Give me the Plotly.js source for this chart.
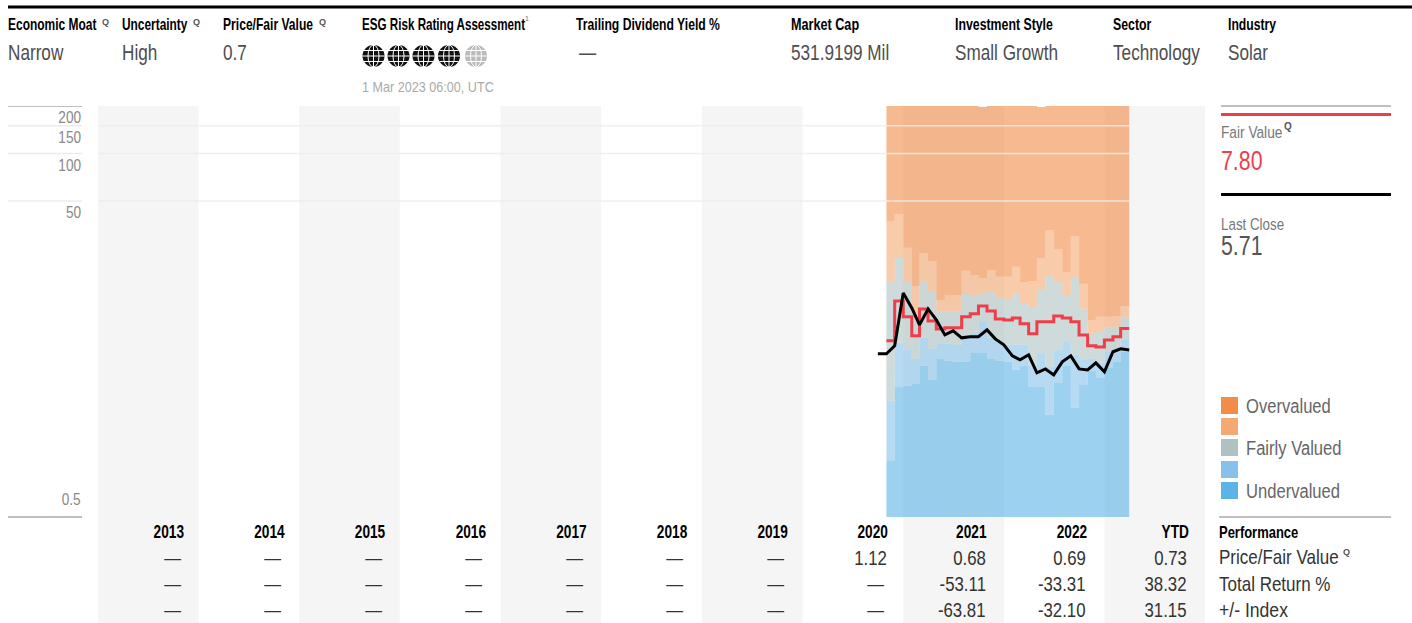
<!DOCTYPE html>
<html>
<head>
<meta charset="utf-8">
<script src="https://cdn.plot.ly/plotly-3.0.1.min.js"></script>
<style>html,body{margin:0;padding:0;background:#fff;overflow:hidden}#chart{width:1412px;height:623px}</style>
</head>
<body>
<div id="chart"></div>
<script>
// ---------- Data ----------
const priceMonths = ['2020-10-01','2020-11-01','2020-12-01','2021-01-01','2021-02-01','2021-03-01','2021-04-01','2021-05-01','2021-06-01','2021-07-01','2021-08-01','2021-09-01','2021-10-01','2021-11-01','2021-12-01','2022-01-01','2022-02-01','2022-03-01','2022-04-01','2022-05-01','2022-06-01','2022-07-01','2022-08-01','2022-09-01','2022-10-01','2022-11-01','2022-12-01','2023-01-01','2023-02-01','2023-03-01','2023-04-01'];
const lastClose = [5.40,5.40,6.06,13.1,10.54,8.23,10.38,8.85,7.11,7.54,6.81,6.92,6.92,7.65,6.71,6.15,5.24,4.94,5.32,4.09,4.33,3.97,4.80,5.24,4.33,4.27,4.73,4.15,5.56,5.80,5.71];
const fairValue = [6.52,11.67,9.25,7.01,10.38,8.72,7.76,7.88,7.88,9.25,9.66,10.85,10.09,8.98,8.85,9.11,8.35,7.22,8.6,8.6,9.38,9.11,8.6,7.11,6.07,5.97,6.61,6.92,7.80];
const undervaluedTop = [1.13,3.33,3.38,3.48,4.53,3.69,5.01,4.87,4.80,4.80,5.47,5.47,5.01,4.87,4.80,4.27,4.53,3.33,3.33,2.22,3.53,4.53,2.46,3.43,4.21,3.79,4.39,4.80,5.56];
const lightBlueTop = [2.72,6.33,5.72,5.01,6.81,5.8,6.24,6.24,6.15,7.11,7.32,8.72,6.81,6.42,6.15,6.15,6.15,4.57,5.39,4.49,5.72,6.42,5.32,4.94,5.01,4.73,5.56,5.97,6.61];
const fairlyValuedTop = [15.6,21.8,15.4,9.80,15.6,13.5,9.95,9.95,9.95,12.9,12.7,13.1,13.5,12.2,12.0,13.1,11.3,10.54,13.7,16.8,15.4,12.7,16.3,10.4,7.32,7.43,7.88,7.99,9.25];
const lightOrangeTop = [37.4,41.4,25.3,14.5,23.5,20.9,11.84,12.7,12.7,18.1,17.0,16.3,18.3,16.6,16.6,19.2,15.4,15.6,21.8,32.8,24.9,17.8,30.1,15.0,8.85,9.25,9.25,9.38,10.85];
const overvaluedTop = [220,220,220,220,220,220,220,220,220,220,220,197,220,220,220,220,220,220,197,220,220,220,220,220,220,220,220,220,220];
const undervaluedFloor = [0.5,0.5,0.5,0.5,0.5,0.5,0.5,0.5,0.5,0.5,0.5,0.5,0.5,0.5,0.5,0.5,0.5,0.5,0.5,0.5,0.5,0.5,0.5,0.5,0.5,0.5,0.5,0.5,0.5];
const gridValues = [200,150,100,50];
const axisValues = [200,150,100,50,0.5];
const axisText = ['200','150','100','50',''];
const yearLabels = ['2013','2014','2015','2016','2017','2018','2019','2020','2021','2022','YTD'];
const yearTicks = ['2013-09-15','2014-09-15','2015-09-15','2016-09-15','2017-09-15','2018-09-15','2019-09-15','2020-09-12','2021-09-05','2022-09-05','2023-09-15'];
const priceFairRow = ['—','—','—','—','—','—','—','1.12','0.68','0.69','0.73'];
const totalReturnRow = ['—','—','—','—','—','—','—','—','-53.11','-33.31','38.32'];
const indexRow = ['—','—','—','—','—','—','—','—','-63.81','-32.10','31.15'];
const headerLabels = ['Economic Moat','Uncertainty','Price/Fair Value','ESG Risk Rating Assessment','Trailing Dividend Yield %','Market Cap','Investment Style','Sector','Industry'];
const headerValues = ['Narrow','High','0.7','','—','531.9199 Mil','Small Growth','Technology','Solar'];
const legendLabels = ['Overvalued','','Fairly Valued','','Undervalued'];
const legendColors = ['#F28C46','#F4A973','#AFC1C1','#87C1EB','#5BB3E6'];

// ---------- Layout helpers ----------
const W=1412,H=623,L=98,R=1205,T=106,B=517;
const FONT='"Liberation Sans",sans-serif';
const px=x=>(x-L)/(R-L), py=y=>1-(y-T)/(B-T);
const ann=[],annFit=[],shp=[];
function txt(x,y,text,size,color,anchor,weight,k){
  ann.push({xref:'paper',yref:'paper',x:px(x),y:py(y),text:text,showarrow:false,xanchor:anchor||'left',yanchor:'middle',borderpad:0,
    font:{family:FONT,size:size,color:color,weight:weight||'normal'}});
  annFit.push({k:k||1,anchor:anchor||'left'});
}
function hline(x0,x1,y,color,w,layer){
  shp.push({type:'line',xref:'paper',yref:'paper',x0:px(x0),x1:px(x1),y0:py(y),y1:py(y),line:{color:color,width:w},layer:layer||'above'});
}
function rect(x0,x1,y0,y1,color){
  shp.push({type:'rect',xref:'paper',yref:'paper',x0:px(x0),x1:px(x1),y0:py(y0),y1:py(y1),fillcolor:color,line:{width:0},layer:'above'});
}
function globe(cx,cy,r,color){
  const line={color:'#fff',width:1};
  shp.push({type:'circle',xref:'paper',yref:'paper',x0:px(cx-r),x1:px(cx+r),y0:py(cy-r),y1:py(cy+r),fillcolor:color,line:{width:0},layer:'above'});
  shp.push({type:'circle',xref:'paper',yref:'paper',x0:px(cx-r*0.5),x1:px(cx+r*0.5),y0:py(cy-r),y1:py(cy+r),line:line,layer:'above'});
  [[cx,cy-r,cx,cy+r],[cx-r,cy,cx+r,cy],[cx-r+1.5,cy-r*0.5,cx+r-1.5,cy-r*0.5],[cx-r+1.5,cy+r*0.5,cx+r-1.5,cy+r*0.5]].forEach(s=>
    shp.push({type:'line',xref:'paper',yref:'paper',x0:px(s[0]),y0:py(s[1]),x1:px(s[2]),y1:py(s[3]),line:line,layer:'above'}));
}
const step=a=>a.concat([a[a.length-1]]);
const areaMonths=priceMonths.slice(1);

// ---------- Year bands ----------
for(let y=2013;y<=2023;y+=2){
  shp.push({type:'rect',xref:'x',yref:'paper',x0:y+'-01-01',x1:(y+1)+'-01-01',y0:py(623),y1:1,fillcolor:'#f5f5f5',line:{width:0},layer:'below'});
}
// ---------- Grid lines and axis rules ----------
gridValues.forEach(v=>{
  if(v!==200) shp.push({type:'line',xref:'x',yref:'y',x0:'2013-01-01',x1:'2023-04-01',y0:v,y1:v,line:{color:'rgba(236,236,236,0.85)',width:1.5},layer:'above'});
  shp.push({type:'line',xref:'paper',yref:'y',x0:px(8),x1:px(82),y0:v,y1:v,line:{color:v===200?'#aaa':'#ececec',width:1.5},layer:'above'});
});
hline(8,82,B,'#aaa',1.5);
hline(1219,1391,B,'#aaa',1.5);
hline(1221,1391,T,'#aaa',1.5);
hline(8,1412,7,'#000',3);

// ---------- Header ----------
const headerX=[8,122,223,362,576,791,955,1113,1228];
const headerK=[0.748,0.743,0.756,0.727,0.76,0.79,0.77,0.77,0.76];
headerLabels.forEach((t,i)=>txt(headerX[i],25,t,16,'#000','left','bold',headerK[i]));
headerValues.forEach((t,i)=>{ if(t) txt(t==='—'?579:headerX[i],52.5,t,22,'#4d4d4d','left','normal',0.78); });
[[105,22],[196,22],[322,22]].forEach(p=>txt(p[0],p[1],'Q',9,'#555','center','bold'));
txt(527,19,'1',7,'#777','center');
txt(362,87,'1 Mar 2023 06:00, UTC',14.5,'#aaa','left','normal',0.87);
[373.5,398.5,423.5,449].forEach(c=>globe(c,56,11,'#111'));
globe(476,56,11,'#bbb');

// ---------- Right panel ----------
hline(1221,1391,114.5,'#EF3E4A',3);
txt(1221,132,'Fair Value',16.5,'#777','left','normal',0.83);
txt(1288,126,'Q',10,'#555','center','bold');
txt(1221,161,'7.80',27,'#EF3E4A','left','normal',0.79);
hline(1221,1391,194.5,'#000',3);
txt(1221,224,'Last Close',16.5,'#777','left','normal',0.81);
txt(1221,246,'5.71',27,'#555','left','normal',0.79);
legendColors.forEach((c,i)=>{
  const y0=[397,418,439,461,482][i];
  rect(1221,1238,y0,y0+17,c);
  if(legendLabels[i]) txt(1246,y0+8,legendLabels[i],21,'#666','left','normal',0.79);
});

// ---------- Table ----------
const rowRight=[187,287,387,488,588,689,790,887.5,987,1087,1188];
[[priceFairRow,557],[totalReturnRow,583.5],[indexRow,609.5]].forEach(r=>{
  r[0].forEach((t,i)=>txt(t==='—'?181.5+100.5*i:rowRight[i],r[1],t,21,'#333','right','normal',0.8));
});
txt(1219,532,'Performance',16,'#000','left','bold',0.81);
txt(1219,557,'Price/Fair Value',20,'#333','left','normal',0.85);
txt(1346,552,'Q',9,'#555','center','bold');
txt(1219,584,'Total Return %',20,'#333','left','normal',0.85);
txt(1219,610,'+/- Index',20,'#333','left','normal',0.88);
txt(82,499,'0.5',17,'#888','right','normal',0.8);

// ---------- Traces ----------
const areaX=areaMonths.concat(['2023-04-01']);
const band=(y,color,name)=>({x:areaX,y:step(y),mode:'lines',line:{shape:'hv',width:0},fill:'tonexty',fillcolor:color,hoverinfo:'skip',showlegend:false,name:name});
const traces=[
  {x:areaX,y:step(undervaluedFloor),mode:'lines',line:{shape:'hv',width:0},hoverinfo:'skip',showlegend:false,name:'floor'},
  band(undervaluedTop,'rgba(91,179,230,0.6)','Undervalued'),
  band(lightBlueTop,'rgba(135,193,235,0.6)','Light blue'),
  band(fairlyValuedTop,'rgba(175,193,193,0.6)','Fairly Valued'),
  band(lightOrangeTop,'rgba(244,169,115,0.6)','Light orange'),
  band(overvaluedTop,'rgba(242,140,70,0.6)','Overvalued'),
  {x:areaX,y:step(fairValue),mode:'lines',line:{shape:'hv',width:3,color:'#EF3E4A'},name:'Fair Value',showlegend:false},
  {x:priceMonths,y:lastClose,mode:'lines',line:{width:3,color:'#000'},name:'Last Close',showlegend:false}
];

const layout={
  width:W,height:H,paper_bgcolor:'#fff',plot_bgcolor:'rgba(0,0,0,0)',showlegend:false,
  margin:{l:L,r:W-R,t:T,b:H-B,pad:0},
  font:{family:FONT},
  xaxis:{type:'date',range:['2013-01-01','2024-01-01'],showgrid:false,zeroline:false,showline:false,ticks:'',
    tickmode:'array',tickvals:yearTicks,ticktext:yearLabels,tickangle:0,ticklabelstandoff:2,
    tickfont:{family:FONT,size:18,color:'#000',weight:'bold'}},
  yaxis:{type:'log',range:[Math.log10(0.5),Math.log10(200)],showgrid:false,zeroline:false,showline:false,ticks:'',
    tickmode:'array',tickvals:axisValues,ticktext:axisText,ticklabelstandoff:16,ticklabelshift:11,
    tickfont:{family:FONT,size:17,color:'#888'}},
  shapes:shp,annotations:ann
};

// Narrow the drawn text horizontally so it takes the reference's condensed widths.
function fit(el,k,side){
  const w=el.getComputedTextLength(), x=parseFloat(el.getAttribute('x')||0);
  const a=el.getAttribute('text-anchor')||el.style.textAnchor||'start';
  let left=a==='middle'?x-w/2:a==='end'?x-w:x;
  const p=side==='left'?left:side==='right'?left+w:x;
  const tx=p*(1-k)+(side==='left'?-1:0);
  const old=el.getAttribute('transform')||'';
  el.setAttribute('transform',old+' matrix('+k+',0,0,1,'+tx+',0)');
}
Plotly.newPlot('chart',traces,layout,{displayModeBar:false,staticPlot:true}).then(()=>{
  document.querySelectorAll('#chart .annotation').forEach(g=>{
    const i=+g.getAttribute('data-index'), el=g.querySelector('text');
    if(el && annFit[i] && annFit[i].k!==1) fit(el,annFit[i].k,annFit[i].anchor);
  });
  document.querySelectorAll('#chart .xtick text').forEach(el=>fit(el,0.76,'center'));
  document.querySelectorAll('#chart .ytick text').forEach(el=>fit(el,0.8,'center'));
});
</script>
</body>
</html>
